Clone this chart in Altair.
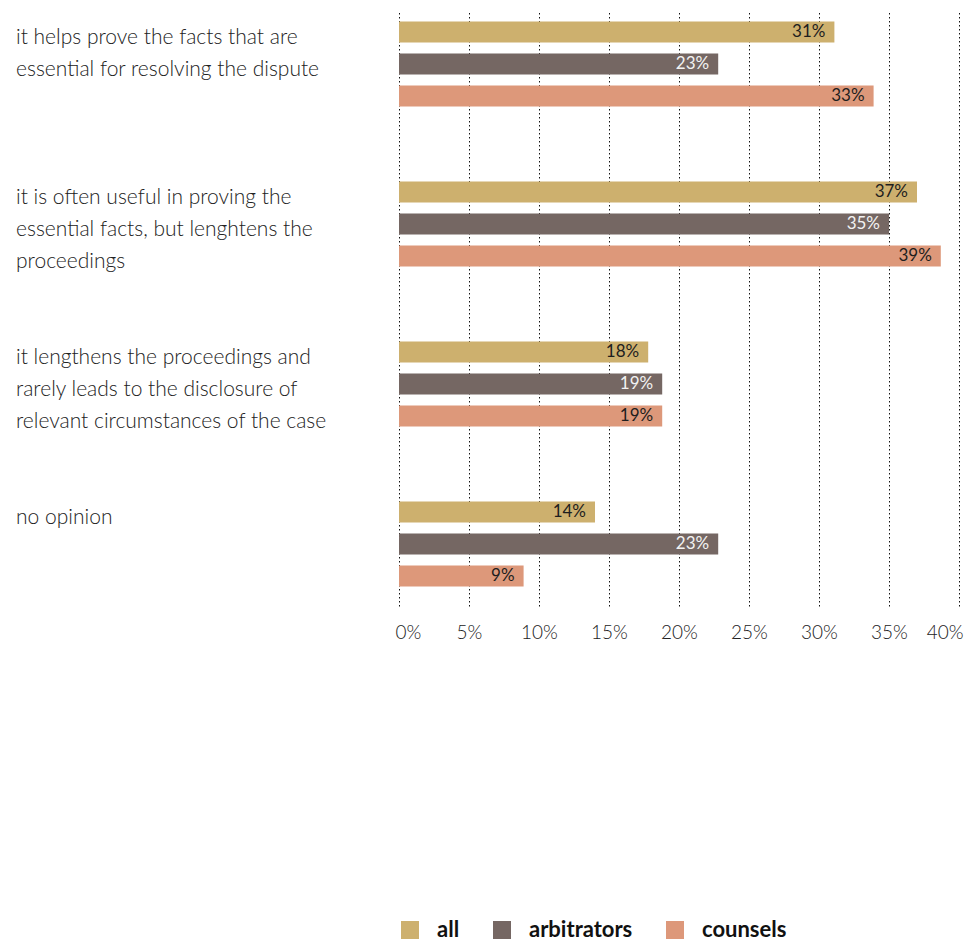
import altair as alt
import pandas as pd

# ---- data ----
categories = [
    "it helps prove the facts that are\nessential for resolving the dispute",
    "it is often useful in proving the\nessential facts, but lenghtens the\nproceedings",
    "it lengthens the proceedings and\nrarely leads to the disclosure of\nrelevant circumstances of the case",
    "no opinion",
]
series = ["all", "arbitrators", "counsels"]
colors = ["#CDB06E", "#756763", "#DD987A"]

values_all = [31.1, 37.0, 17.8, 14.0]
values_arbitrators = [22.8, 35.0, 18.8, 22.8]
values_counsels = [33.9, 38.7, 18.8, 8.9]

labels_all = ["31%", "37%", "18%", "14%"]
labels_arbitrators = ["23%", "35%", "19%", "23%"]
labels_counsels = ["33%", "39%", "19%", "9%"]

x_ticks = [0, 5, 10, 15, 20, 25, 30, 35, 40]

rows = []
for s, vals, labs in [
    ("all", values_all, labels_all),
    ("arbitrators", values_arbitrators, labels_arbitrators),
    ("counsels", values_counsels, labels_counsels),
]:
    for c, v, l in zip(categories, vals, labs):
        rows.append({"category": c, "series": s, "value": v, "label": l})
df = pd.DataFrame(rows)
cat_df = pd.DataFrame({"category": categories})

FONT = "Lato"

y_scale = alt.Scale(paddingInner=0.4, paddingOuter=0.0625, align=0.3)
y_enc = alt.Y("category:N", sort=categories, axis=None, scale=y_scale)
yoff_enc = alt.YOffset(
    "series:N", sort=series, scale=alt.Scale(paddingInner=0.34, paddingOuter=0.17)
)
x_scale = alt.Scale(domain=[0, 40], nice=False)
x_axis = alt.Axis(
    values=x_ticks,
    title=None,
    labelExpr="datum.value + '%'",
    grid=True,
    gridDash=[1.5, 2.5],
    gridColor="#111111",
    gridWidth=1,
    domain=False,
    ticks=False,
    tickSize=0,
    labelPadding=17,
    labelFontSize=19,
    labelFont=FONT,
    labelFontWeight=300,
    labelColor="#222222",
    labelFlush=True,
    labelFlushOffset=4,
)

bars = alt.Chart(df).mark_bar().encode(
    y=y_enc,
    yOffset=yoff_enc,
    x=alt.X("value:Q", scale=x_scale, axis=x_axis),
    color=alt.Color(
        "series:N",
        sort=series,
        scale=alt.Scale(domain=series, range=colors),
        legend=alt.Legend(
            title=None,
            orient="none",
            legendX=0,
            legendY=909,
            direction="horizontal",
            symbolType="square",
            symbolSize=324,
            symbolStrokeWidth=0,
            symbolOpacity=1,
            labelFontSize=22,
            labelFontWeight="bold",
            labelFont=FONT,
            labelColor="#111111",
            labelOffset=16,
            columnPadding=31,
        ),
    ),
)

value_text = alt.Chart(df).mark_text(
    align="right", baseline="middle", dx=-9, fontSize=17, font=FONT
).encode(
    y=y_enc,
    yOffset=yoff_enc,
    x=alt.X("value:Q", scale=x_scale, axis=x_axis),
    text="label:N",
    color=alt.condition(
        alt.datum.series == "arbitrators", alt.value("#F2F2F2"), alt.value("#1E1E1E")
    ),
)

cat_text = alt.Chart(cat_df).mark_text(
    align="left",
    baseline="alphabetic",
    lineBreak="\n",
    lineHeight=32,
    fontSize=21,
    fontWeight=300,
    font=FONT,
    color="#222222",
    dy=28,
).encode(
    y=alt.Y("category:N", sort=categories, bandPosition=0, axis=None, scale=y_scale),
    x=alt.value(-383),
    text="category:N",
)

chart = (
    alt.layer(bars, value_text, cat_text)
    .properties(
        width=560,
        height=596,
        background="white",
        autosize=alt.AutoSizeParams(type="none"),
        padding={"left": 399, "top": 10, "right": 6, "bottom": 335},
    )
    .configure_view(strokeWidth=0, stroke="transparent")
)

chart.save("out.html", embed_options={"renderer": "svg", "actions": False})
